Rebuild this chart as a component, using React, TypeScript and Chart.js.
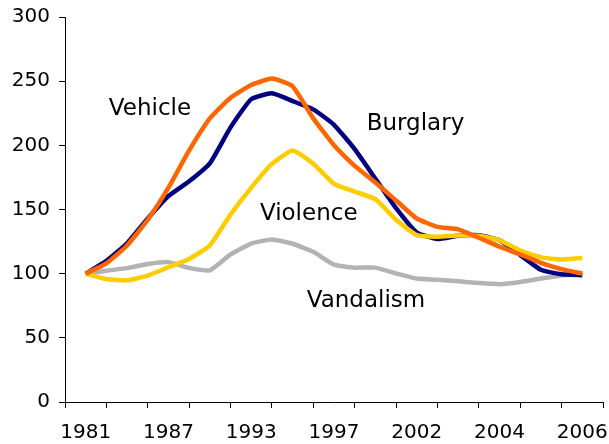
import React, { useEffect, useRef } from "react";
import { Chart, registerables } from "chart.js";

Chart.register(...registerables);

// Category labels shown under every other category (13 categories in total)
const categoryLabels = ["1981", "1987", "1993", "1997", "2002", "2004", "2006"];
const categoryCount = 13;

// Index values (1981 = 100), read every half category
const vehicle = [100, 108, 122, 142, 167, 196, 221, 237, 247, 252, 246, 221, 200, 184, 171, 157, 143, 136.5, 134.5, 128, 121, 115, 108.5, 103.5, 100];
const burglary = [100, 110, 123.7, 143, 160.5, 172, 186, 214, 236, 240.5, 234.5, 228, 216, 197, 174, 151, 132, 127, 129.5, 130, 126, 114.5, 103, 99.5, 98.8];
const violence = [100, 95.8, 94.8, 98.5, 105, 111.5, 122, 146, 167, 185.5, 196, 185.7, 170, 164, 158, 142, 130, 128.8, 129.7, 129.5, 126, 118, 112.7, 111, 112.2];
const vandalism = [100, 102.3, 104.3, 107.5, 109, 104.5, 102.6, 115, 123.5, 126.6, 123.3, 117, 107, 104.7, 104.7, 100.2, 96.2, 95.3, 94, 92.7, 91.8, 93.5, 96.2, 98.6, 100.5];

const yTicks = [0, 50, 100, 150, 200, 250, 300];

// Series name labels, anchored in data space (category index, index value)
const seriesLabels = [
  { text: "Vehicle", x: 0.56, y: 223.5 },
  { text: "Burglary", x: 6.79, y: 211.8 },
  { text: "Violence", x: 4.21, y: 141.6 },
  { text: "Vandalism", x: 5.34, y: 74 },
];

const FONT = "'DejaVu Sans', Verdana, sans-serif";

const toPoints = (arr: number[]) => arr.map((v, i) => ({ x: i * 0.5, y: v }));

const labelPlugin = {
  id: "seriesLabels",
  afterDatasetsDraw(chart: any) {
    const ctx = chart.ctx;
    const xs = chart.scales.x;
    const ys = chart.scales.y;
    ctx.save();
    ctx.font = `23px ${FONT}`;
    ctx.fillStyle = "#000";
    ctx.textAlign = "left";
    ctx.textBaseline = "alphabetic";
    for (const l of seriesLabels) {
      ctx.fillText(l.text, xs.getPixelForValue(l.x), ys.getPixelForValue(l.y));
    }
    ctx.restore();
  },
};

const zeroPadding = (scale: any) => {
  scale.paddingLeft = 0;
  scale.paddingRight = 0;
  scale.paddingTop = 0;
  scale.paddingBottom = 0;
};

export default function App() {
  const ref = useRef<HTMLCanvasElement | null>(null);
  useEffect(() => {
    if (!ref.current) return;
    const mk = (label: string, data: number[], color: string, order: number) => ({
      label,
      data: toPoints(data),
      borderColor: color,
      backgroundColor: color,
      borderWidth: 4.5,
      pointRadius: 0,
      tension: 0.15,
      borderJoinStyle: "round" as const,
      fill: false,
      order,
    });
    const chart = new Chart(ref.current, {
      type: "line",
      data: {
        datasets: [
          mk("Vehicle", vehicle, "#FF6600", 0),
          mk("Violence", violence, "#FFCC00", 1),
          mk("Burglary", burglary, "#000080", 2),
          mk("Vandalism", vandalism, "#B3B3B3", 3),
        ],
      },
      options: {
        responsive: false,
        animation: false,
        devicePixelRatio: 1,
        layout: { padding: { left: 12, right: 6, top: 17, bottom: 0 } },
        plugins: { legend: { display: false }, tooltip: { enabled: false } },
        scales: {
          x: {
            type: "linear",
            min: -0.5,
            max: categoryCount - 0.5,
            afterBuildTicks: (scale: any) => {
              const t = [];
              for (let v = -0.5; v <= categoryCount - 0.5 + 1e-9; v += 0.5) t.push({ value: v });
              scale.ticks = t;
            },
            afterFit: (scale: any) => {
              scale.height = 42;
              zeroPadding(scale);
            },
            ticks: {
              autoSkip: false,
              maxRotation: 0,
              padding: 14,
              color: "#000",
              font: { family: FONT, size: 20, lineHeight: 1.1 },
              callback: (value: any) => {
                const v = Number(value);
                if (Number.isInteger(v) && v % 2 === 0) return categoryLabels[v / 2] ?? "";
                return "";
              },
            },
            grid: {
              drawOnChartArea: false,
              drawTicks: true,
              tickLength: 6,
              tickWidth: 1,
              tickColor: (ctx: any) => {
                const v = ctx.tick ? Number(ctx.tick.value) : 0;
                return Number.isInteger(v) ? "rgba(0,0,0,0)" : "#000";
              },
            },
            border: { display: true, color: "#000", width: 1 },
          },
          y: {
            min: 0,
            max: 300,
            afterBuildTicks: (scale: any) => {
              scale.ticks = yTicks.map((v) => ({ value: v }));
            },
            afterFit: (scale: any) => {
              scale.width = 53;
              zeroPadding(scale);
            },
            ticks: {
              padding: 9,
              color: "#000",
              font: { family: FONT, size: 20 },
            },
            grid: {
              drawOnChartArea: false,
              drawTicks: true,
              tickLength: 6,
              tickColor: "#000",
            },
            border: { display: true, color: "#000", width: 1 },
          },
        },
      },
      plugins: [labelPlugin],
    });
    return () => chart.destroy();
  }, []);
  return (
    <div style={{ position: "fixed", left: 0, top: 0, width: 609, height: 444, background: "#fff" }}>
      <canvas ref={ref} width={609} height={444} />
    </div>
  );
}
